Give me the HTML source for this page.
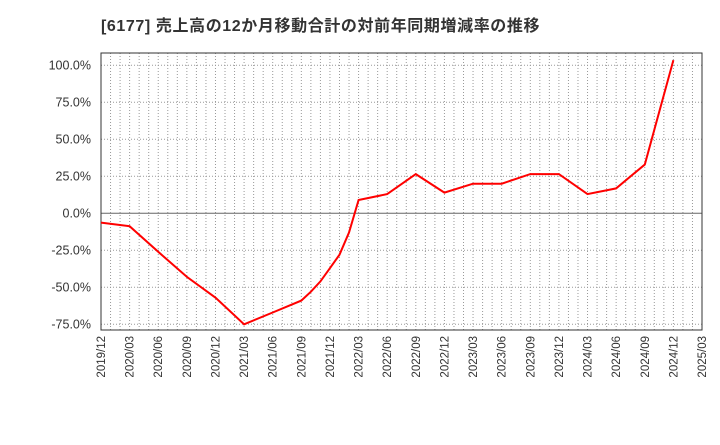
<!DOCTYPE html>
<html><head><meta charset="utf-8"><style>
body{margin:0;background:#fff;}
svg text{font-family:"Liberation Sans","Noto Sans CJK JP",sans-serif;}
</style></head><body>
<svg id="c" width="720" height="440" xmlns="http://www.w3.org/2000/svg">
<text x="101" y="31" font-size="16" font-weight="bold" fill="#333" letter-spacing="0.6">[6177]  売上高の12か月移動合計の対前年同期増減率の推移</text>
<g id="grid"></g><g id="axes"></g><g id="series"></g>
</svg>
<script>
const xTickLabels=["2019/12","2020/03","2020/06","2020/09","2020/12","2021/03","2021/06","2021/09","2021/12","2022/03","2022/06","2022/09","2022/12","2023/03","2023/06","2023/09","2023/12","2024/03","2024/06","2024/09","2024/12","2025/03"];
const yTicks=[-75,-50,-25,0,25,50,75,100];
const months=[0,3,6,9,12,15,18,21,22,23,24,25,26,27,30,33,36,39,42,45,48,51,54,57,60];
const values=[-6.3,-8.7,-26,-43,-57,-75,-67,-59,-53,-46,-37,-28,-13,9,13,26.5,14,20,20,26.5,26.5,13,16.8,33,103.5];
const L=101,R=702,T=53,B=330,totalMonths=63;
const xs=m=>L+(R-L)*m/totalMonths;
const ys=v=>213.3-v*37/25;
const NS="http://www.w3.org/2000/svg";
function mk(tag,attrs,parent){const e=document.createElementNS(NS,tag);for(const k in attrs)e.setAttribute(k,attrs[k]);parent.appendChild(e);return e;}
const g=document.getElementById('grid'),a=document.getElementById('axes'),s=document.getElementById('series');
for(let m=1;m<totalMonths;m++){
 const l=mk('line',{x1:xs(m),x2:xs(m),y1:T,y2:B,stroke:'#999','stroke-width':1,'stroke-dasharray':'1,2'},g);
 
 
}
yTicks.forEach(v=>{
 const y=ys(v);
 const l=mk('line',{x1:L,x2:R,y1:y,y2:y,stroke:v===0?'#666':'#999','stroke-width':1,'stroke-dasharray':v===0?'none':'1,2'},g);
 
 
 const t=mk('text',{x:91,y:y+4,'font-size':12.5,'text-anchor':'end',fill:'#333'},a);
 t.textContent=v.toFixed(1)+'%';
 
 
});
xTickLabels.forEach((lab,i)=>{
 const x=xs(i*3);
 const t=mk('text',{x:0,y:0,'font-size':11.5,'text-anchor':'end',fill:'#333',transform:`translate(${x+4},336) rotate(-90)`},a);
 t.textContent=lab;
 
 
});
const fr=mk('rect',{x:L,y:T,width:R-L,height:B-T,fill:'none',stroke:'#333','stroke-width':1},a);


const pts=months.map((m,i)=>xs(m).toFixed(1)+','+ys(values[i]).toFixed(1)).join(' ');
const pl=mk('polyline',{points:pts,fill:'none',stroke:'#f00','stroke-width':2},s);


</script>
</body></html>
